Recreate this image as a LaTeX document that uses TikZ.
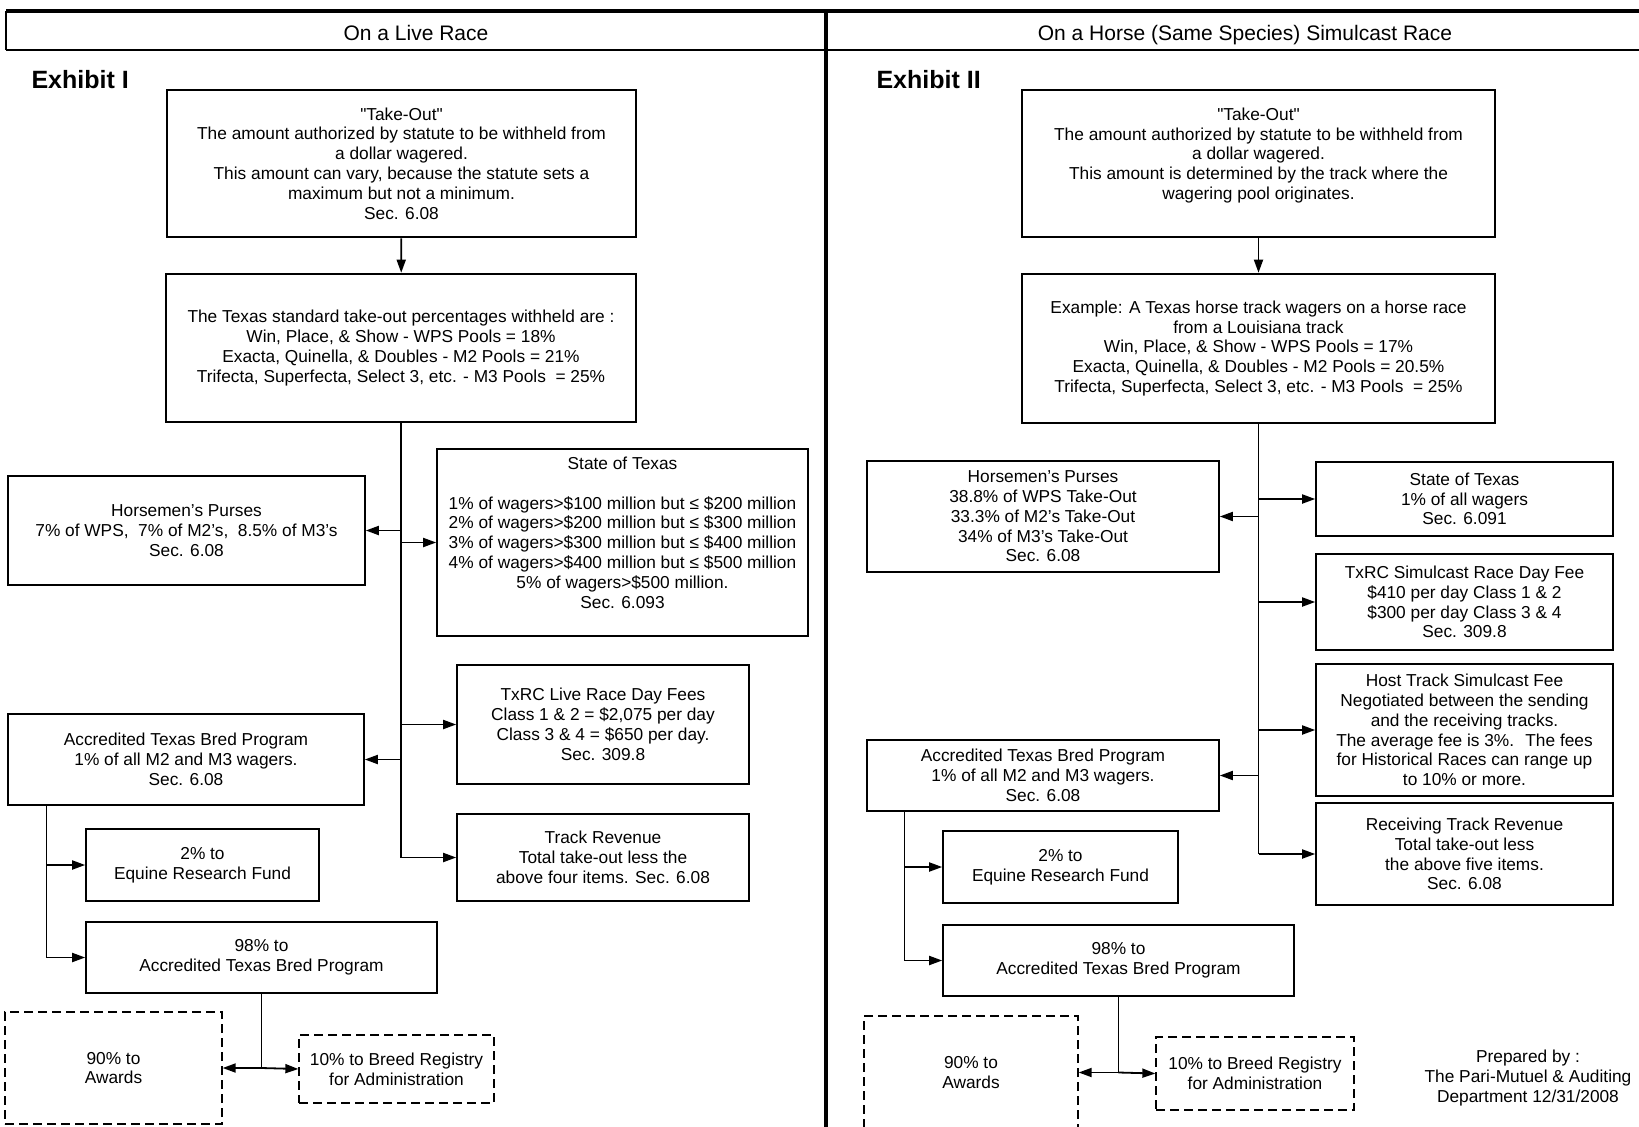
\documentclass[tikz,border=0pt]{standalone}
\usepackage{fontspec}
\setmainfont{Liberation Sans}
\usetikzlibrary{arrows.meta, positioning}

\tikzset{
  boxfont/.style={font=\fontsize{17.3}{19.8}\selectfont},
  hdrfont/.style={font=\fontsize{21}{24}\selectfont},
  exfont/.style={font=\fontsize{25}{28}\selectfont\bfseries},
  mainbox/.style={draw, line width=2.6pt, align=center, inner sep=0pt, boxfont},
  subbox/.style={draw, line width=1.6pt, align=center, inner sep=0pt, boxfont},
  dashbox/.style={draw, line width=1.3pt, dash pattern=on 9pt off 5pt, align=center, inner sep=0pt, boxfont},
  link/.style={line width=1.4pt},
  arr/.style={line width=1.8pt, -{Triangle[length=13pt,width=9pt]}},
}

\begin{document}
\begin{tikzpicture}[x=1pt, y=-1pt]
  \useasboundingbox (0,0) rectangle (1639,1127);
  % Frame and headers
  \draw[line width=4pt] (6,11) -- (1639,11);
  \draw[line width=1.8pt] (6,50) -- (1639,50);
  \draw[line width=1.5pt] (6,11) -- (6,50);
  \draw[line width=4.5pt] (826,11) -- (826,1127);
  \node[hdrfont, anchor=base] (hdrL) at (416,40) {On a Live Race};
  \node[hdrfont, anchor=base] (hdrR) at (1245,40) {On a Horse (Same Species) Simulcast Race};

  % ---------------- Exhibit I : live race ----------------
  \node[exfont, anchor=west] (exL) at (28,80) {Exhibit I};
  \node[mainbox, minimum width=469pt, minimum height=147pt] (LT) at (401.5,163.5)
    {\textquotedbl Take-Out\textquotedbl\\The amount authorized by statute to be withheld from\\a dollar wagered.\\This amount can vary, because the statute sets a\\maximum but not a minimum.\\Sec. 6.08};
  \node[mainbox, minimum width=470pt, minimum height=148pt] (LS) at (401,348)
    {The Texas standard take-out percentages withheld are :\\Win, Place, \& Show - WPS Pools = 18\%\\Exacta, Quinella, \& Doubles - M2 Pools = 21\%\\Trifecta, Superfecta, Select 3, etc. - M3 Pools \ = 25\%};
  \node[subbox, minimum width=357pt, minimum height=109pt] (LHP) at (186.5,530.5)
    {Horsemen's Purses\\7\% of WPS, \ 7\% of M2's, \ 8.5\% of M3's\\Sec. 6.08};
  \node[subbox, minimum width=371pt, minimum height=187pt] (LST) at (622.5,542.5)
    {State of Texas\\[19.8pt]1\% of wagers>\$100 million but ≤ \$200 million\\2\% of wagers>\$200 million but ≤ \$300 million\\3\% of wagers>\$300 million but ≤ \$400 million\\4\% of wagers>\$400 million but ≤ \$500 million\\5\% of wagers>\$500 million.\\Sec. 6.093\\};
  \node[subbox, minimum width=292pt, minimum height=119pt] (LFEE) at (603,724.5)
    {TxRC Live Race Day Fees\\Class 1 \& 2 = \$2,075 per day\\Class 3 \& 4 = \$650 per day.\\Sec. 309.8};
  \node[subbox, minimum width=356pt, minimum height=91pt] (LAB) at (186,759.5)
    {Accredited Texas Bred Program\\1\% of all M2 and M3 wagers.\\Sec. 6.08};
  \node[subbox, minimum width=292pt, minimum height=87pt] (LTR) at (603,857.5)
    {Track Revenue\\Total take-out less the\\above four items. Sec. 6.08};
  \node[subbox, minimum width=233pt, minimum height=72pt] (LEQ) at (202.5,865)
    {2\% to\\Equine Research Fund};
  \node[subbox, minimum width=351pt, minimum height=71pt] (LAP) at (261.5,957.5)
    {98\% to\\Accredited Texas Bred Program};
  \node[dashbox, minimum width=217pt, minimum height=112pt] (LAW) at (113.5,1068)
    {90\% to\\Awards};
  \node[dashbox, minimum width=195pt, minimum height=68pt] (LBR) at (396.5,1069)
    {10\% to Breed Registry\\for Administration};

  % connectors, left
  \draw[arr] (LT) -- (LS);
  \draw[link] (LS.south) -- (LS.south |- LTR.west);
  \foreach \n in {LST,LFEE,LTR}
    \draw[arr] (LS.south |- \n.west) -- (\n.west);
  \foreach \n in {LHP,LAB}
    \draw[arr] (LS.south |- \n.east) -- (\n.east);
  \coordinate (LBr) at ([xshift=39pt]LAB.south west);
  \draw[link] (LBr) -- (LBr |- LAP.west);
  \foreach \n in {LEQ,LAP}
    \draw[arr] (LBr |- \n.west) -- (\n.west);
  \coordinate (LSp) at (LAP.south |- LAW.east);
  \draw[link] (LAP.south) -- (LSp);
  \draw[arr] (LSp) -- (LAW.east);
  \draw[arr] (LSp) -- (LBR.west);

  % ---------------- Exhibit II : simulcast race ----------------
  \node[exfont, anchor=west] (exR) at (873,80) {Exhibit II};
  \node[mainbox, minimum width=473pt, minimum height=147pt] (RT) at (1258.5,163.5)
    {\textquotedbl Take-Out\textquotedbl\\The amount authorized by statute to be withheld from\\a dollar wagered.\\This amount is determined by the track where the\\wagering pool originates.\\};
  \node[mainbox, minimum width=473pt, minimum height=149pt] (RS) at (1258.5,348.5)
    {Example: A Texas horse track wagers on a horse race\\from a Louisiana track\\Win, Place, \& Show - WPS Pools = 17\%\\Exacta, Quinella, \& Doubles - M2 Pools = 20.5\%\\Trifecta, Superfecta, Select 3, etc. - M3 Pools \ = 25\%};
  \node[subbox, minimum width=352pt, minimum height=111pt] (RHP) at (1043,516.5)
    {Horsemen's Purses\\38.8\% of WPS Take-Out\\33.3\% of M2's Take-Out\\34\% of M3's Take-Out\\Sec. 6.08};
  \node[subbox, minimum width=297pt, minimum height=74pt] (RST) at (1464.5,499)
    {State of Texas\\1\% of all wagers\\Sec. 6.091};
  \node[subbox, minimum width=297pt, minimum height=96pt] (RFEE) at (1464.5,602)
    {TxRC Simulcast Race Day Fee\\\$410 per day Class 1 \& 2\\\$300 per day Class 3 \& 4\\Sec. 309.8};
  \node[subbox, minimum width=297pt, minimum height=132pt] (RHOST) at (1464.5,730)
    {Host Track Simulcast Fee\\Negotiated between the sending\\and the receiving tracks.\\The average fee is 3\%. \ The fees\\for Historical Races can range up\\to 10\% or more.};
  \node[subbox, minimum width=352pt, minimum height=71pt] (RAB) at (1043,775.5)
    {Accredited Texas Bred Program\\1\% of all M2 and M3 wagers.\\Sec. 6.08};
  \node[subbox, minimum width=297pt, minimum height=102pt] (RREV) at (1464.5,854)
    {Receiving Track Revenue\\Total take-out less\\the above five items.\\Sec. 6.08};
  \node[subbox, minimum width=235pt, minimum height=72pt] (REQ) at (1060.5,867)
    {2\% to\\Equine Research Fund};
  \node[subbox, minimum width=351pt, minimum height=71pt] (RAP) at (1118.5,960.5)
    {98\% to\\Accredited Texas Bred Program};
  \node[dashbox, minimum width=214pt, minimum height=113pt] (RAW) at (971,1072.5)
    {90\% to\\Awards};
  \node[dashbox, minimum width=198pt, minimum height=73pt] (RBR) at (1255,1073.5)
    {10\% to Breed Registry\\for Administration};
  \node[boxfont, align=center] (prep) at (1528,1078)
    {Prepared by :\\The Pari-Mutuel \& Auditing\\Department 12/31/2008};

  % connectors, right
  \draw[arr] (RT) -- (RS);
  \draw[link] (RS.south) -- (RS.south |- RREV.west);
  \foreach \n in {RST,RFEE,RHOST,RREV}
    \draw[arr] (RS.south |- \n.west) -- (\n.west);
  \foreach \n in {RHP,RAB}
    \draw[arr] (RS.south |- \n.east) -- (\n.east);
  \coordinate (RBr) at ([xshift=38pt]RAB.south west);
  \draw[link] (RBr) -- (RBr |- RAP.west);
  \foreach \n in {REQ,RAP}
    \draw[arr] (RBr |- \n.west) -- (\n.west);
  \coordinate (RSp) at (RAP.south |- RAW.east);
  \draw[link] (RAP.south) -- (RSp);
  \draw[arr] (RSp) -- (RAW.east);
  \draw[arr] (RSp) -- (RBR.west);
\end{tikzpicture}
\end{document}
